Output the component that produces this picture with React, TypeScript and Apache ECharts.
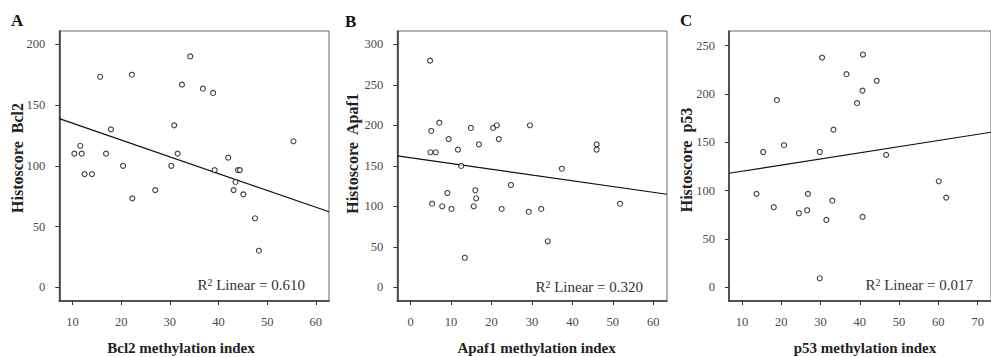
import React, { useEffect, useRef } from "react";
import * as echarts from "echarts";

// ---------- Data ----------
const bcl2Methylation = [10.4, 11.6, 11.9, 12.5, 14.0, 15.7, 16.9, 17.9, 20.4, 22.2, 22.3, 27.0, 30.3, 30.9, 31.6, 32.5, 34.2, 36.8, 38.9, 39.2, 42.0, 43.5, 43.1, 44.0, 44.4, 45.1, 47.5, 48.3, 55.4];
const bcl2Histoscore = [110, 116.5, 110, 93.2, 93.2, 173.3, 110, 130, 100, 175, 73.2, 80, 100, 133.3, 110, 166.8, 190.1, 163.5, 160, 96.5, 106.7, 86.7, 80, 96.5, 96.5, 76.5, 56.8, 30.1, 120.2];

const apaf1Methylation = [4.8, 5.1, 4.9, 6.2, 5.3, 7.1, 7.8, 9.1, 9.4, 10.1, 11.7, 12.5, 13.4, 14.9, 15.6, 16.0, 16.2, 16.9, 20.4, 21.3, 21.8, 22.5, 24.8, 29.2, 29.5, 32.3, 33.9, 37.4, 46.0, 46.0, 51.8];
const apaf1Histoscore = [279.8, 193, 166.7, 166.7, 103.2, 203.2, 100, 116.4, 183, 96.7, 169.9, 149.8, 36.5, 196.7, 100, 119.8, 109.9, 176.5, 196.7, 200, 183, 96.7, 126.3, 93.3, 200, 96.7, 56.8, 146.4, 176.5, 169.9, 103.2];

const p53Methylation = [13.7, 15.4, 18.1, 18.9, 20.7, 24.5, 26.6, 26.8, 29.8, 29.8, 30.4, 31.5, 33.0, 33.3, 36.6, 39.3, 40.7, 40.8, 40.7, 44.3, 46.7, 60.1, 62.0];
const p53Histoscore = [96.6, 140, 82.8, 193.6, 147, 76.6, 79.7, 96.6, 140, 9.3, 237.7, 69.7, 89.6, 163.1, 220.5, 190.5, 203.5, 240.8, 72.8, 213.6, 137, 109.7, 92.8];

// fit lines: [intercept, slope]
const fitBcl2 = [148.9, -1.383];
const fitApaf1 = [159.8, -0.709];
const fitP53 = [113.7, 0.637];

const r2Labels = ["0.610", "0.320", "0.017"];
const panelLetters = ["A", "B", "C"];
const xTitles = ["Bcl2 methylation index", "Apaf1 methylation index", "p53 methylation index"];
const yTitles = ["Histoscore  Bcl2", "Histoscore  Apaf1", "Histoscore  p53"];

const xTicksA = [10, 20, 30, 40, 50, 60];
const xTicksB = [0, 10, 20, 30, 40, 50, 60];
const xTicksC = [10, 20, 30, 40, 50, 60, 70];
const yTicksA = [0, 50, 100, 150, 200];
const yTicksB = [0, 50, 100, 150, 200, 250, 300];
const yTicksC = [0, 50, 100, 150, 200, 250];

const xRangeA = [7.3, 62.7];
const xRangeB = [-3.3, 63.4];
const xRangeC = [6.7, 73.4];
const yRangeA = [-11.3, 211];
const yRangeB = [-16.9, 316.4];
const yRangeC = [-14.2, 265.2];

const FONT = "'Liberation Serif', 'Times New Roman', serif";

function zip(xs: number[], ys: number[]) {
  return xs.map((x, i) => [x, ys[i]]);
}

function fitLine(fit: number[], range: number[]) {
  return range.map((x) => [x, fit[0] + fit[1] * x]);
}

export default function App() {
  const ref = useRef<HTMLDivElement>(null);

  useEffect(() => {
    if (!ref.current) return;
    const chart = echarts.init(ref.current, undefined, { renderer: "svg" });

    const grids = [
      { left: 59.3, top: 31, width: 269.7, height: 270 },
      { left: 397.3, top: 31, width: 269.7, height: 270 },
      { left: 729, top: 31, width: 270, height: 270 },
    ];
    const xRanges = [xRangeA, xRangeB, xRangeC];
    const yRanges = [yRangeA, yRangeB, yRangeC];
    const xTicks = [xTicksA, xTicksB, xTicksC];
    const yTicks = [yTicksA, yTicksB, yTicksC];
    const scatters = [
      zip(bcl2Methylation, bcl2Histoscore),
      zip(apaf1Methylation, apaf1Histoscore),
      zip(p53Methylation, p53Histoscore),
    ];
    const fits = [fitBcl2, fitApaf1, fitP53];

    const labelStyle = { color: "#4a4a4a", fontFamily: FONT, fontSize: 12.5 };

    const xAxis = grids.map((_, i) => ({
      type: "value",
      gridIndex: i,
      min: xRanges[i][0],
      max: xRanges[i][1],
      splitLine: { show: false },
      axisLine: { show: true, onZero: false, lineStyle: { color: "#333", width: 1.5 } },
      axisTick: { show: true, length: 4, customValues: xTicks[i], lineStyle: { color: "#333" } },
      axisLabel: { ...labelStyle, margin: 14, customValues: xTicks[i], showMinLabel: true, showMaxLabel: true },
    }));
    const yAxis = grids.map((_, i) => ({
      type: "value",
      gridIndex: i,
      min: yRanges[i][0],
      max: yRanges[i][1],
      splitLine: { show: false },
      axisLine: { show: true, onZero: false, lineStyle: { color: "#333", width: 1.5 } },
      axisTick: { show: true, length: 4, customValues: yTicks[i], lineStyle: { color: "#333" } },
      axisLabel: { ...labelStyle, margin: 14, customValues: yTicks[i] },
    }));

    const series: any[] = [];
    grids.forEach((_, i) => {
      series.push({
        type: "line",
        xAxisIndex: i,
        yAxisIndex: i,
        data: fitLine(fits[i], xRanges[i]),
        symbol: "none",
        lineStyle: { color: "#111", width: 1.2 },
        silent: true,
        z: 2,
      });
      series.push({
        type: "scatter",
        xAxisIndex: i,
        yAxisIndex: i,
        data: scatters[i],
        symbol: "circle",
        symbolSize: 5,
        itemStyle: { color: "#fff", borderColor: "#111", borderWidth: 1.1 },
        z: 3,
      });
    });

    const letterPos = [
      [11, 12],
      [345, 13],
      [680, 12],
    ];
    const xTitlePos = [181, 536.6, 865];
    const yTitlePos = [
      [17, 158],
      [352, 153.5],
      [686, 160],
    ];
    const r2Pos = [
      [305, 285],
      [643, 287],
      [973, 285],
    ];

    const graphic: any[] = [];
    grids.forEach((_, i) => {
      graphic.push({
        type: "text",
        x: letterPos[i][0],
        y: letterPos[i][1],
        style: { text: panelLetters[i], font: `bold 17px ${FONT}`, fill: "#111" },
      });
      graphic.push({
        type: "text",
        x: xTitlePos[i],
        y: 348,
        style: {
          text: xTitles[i],
          font: `bold 15px ${FONT}`,
          fill: "#222",
          textAlign: "center",
          textVerticalAlign: "middle",
        },
      });
      graphic.push({
        type: "text",
        x: yTitlePos[i][0],
        y: yTitlePos[i][1],
        rotation: Math.PI / 2,
        style: {
          text: yTitles[i],
          font: `bold 16px ${FONT}`,
          fill: "#222",
          textAlign: "center",
          textVerticalAlign: "middle",
        },
      });
      graphic.push({
        type: "text",
        x: r2Pos[i][0],
        y: r2Pos[i][1],
        style: {
          text: `{r|R}{s|2}{r| Linear = ${r2Labels[i]}}`,
          textAlign: "right",
          textVerticalAlign: "middle",
          rich: {
            r: { fontFamily: FONT, fontSize: 15, fill: "#333", color: "#333" },
            s: { fontFamily: FONT, fontSize: 10, fill: "#333", color: "#333", verticalAlign: "top", padding: [0, 0, 6, 0] },
          },
        },
      });
    });

    chart.setOption({
      animation: false,
      backgroundColor: "#fff",
      grid: grids.map((g) => ({ ...g, show: true, borderColor: "#666", borderWidth: 1, backgroundColor: "transparent" })),
      xAxis,
      yAxis,
      series,
      graphic,
    });

    return () => chart.dispose();
  }, []);

  return (
    <div
      ref={ref}
      style={{ position: "absolute", left: 0, top: 0, width: 991, height: 357, overflow: "hidden" }}
    />
  );
}
